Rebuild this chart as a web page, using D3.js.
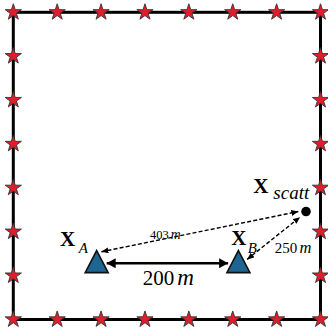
<!DOCTYPE html>
<html>
<head>
<meta charset="utf-8">
<script src="https://cdn.jsdelivr.net/npm/d3@7"></script>
<style>
  html, body { margin: 0; padding: 0; background: #fff; }
  svg { display: block; }
  text { font-family: "Liberation Serif", "Times New Roman", serif; fill: #000; }
</style>
</head>
<body>
<svg id="chart" width="328" height="336"></svg>
<script>
// Field layout in field units (square field, 0..700 on both axes)
const sensorSteps = [0, 100, 200, 300, 400, 500, 600, 700];

// Nodes: two receivers (triangles) and the scatterer (dot)
const nodeNames = ["A", "B", "scatt"];
const nodeX = [190, 513, 667];
const nodeY = [124, 124, 246];
const nodeKind = ["receiver", "receiver", "scatterer"];

// Measured distances between nodes
const linkFrom = ["A", "A", "B"];
const linkTo = ["B", "scatt", "scatt"];
const linkMeters = ["200", "403", "250"];
const linkStyle = ["solid", "dashed", "dashed"];

const fieldMax = 700;

const svg = d3.select("#chart");
const x = d3.scaleLinear().domain([0, fieldMax]).range([13.3, 320.5]);
const y = d3.scaleLinear().domain([0, fieldMax]).range([319.5, 12.3]);

// arrow markers
const defs = svg.append("defs");
function marker(id, w, h, orient) {
  defs.append("marker")
    .attr("id", id)
    .attr("viewBox", `0 ${-h / 2} ${w} ${h}`)
    .attr("refX", w).attr("refY", 0)
    .attr("markerUnits", "userSpaceOnUse")
    .attr("markerWidth", w).attr("markerHeight", h)
    .attr("orient", orient)
    .append("path")
    .attr("d", `M0,${-h / 2}L${w},0L0,${h / 2}Z`)
    .attr("fill", "#000");
}
marker("solidEnd", 9, 10, "auto");
marker("solidStart", 9, 10, "auto-start-reverse");
marker("dashEnd", 7, 6, "auto");
marker("dashStart", 7, 6, "auto-start-reverse");

// field boundary
svg.append("rect")
  .attr("x", x(0)).attr("y", y(fieldMax))
  .attr("width", x(fieldMax) - x(0))
  .attr("height", y(0) - y(fieldMax))
  .attr("fill", "none")
  .attr("stroke", "#000")
  .attr("stroke-width", 3);

// sensors along the four sides (corners shared)
const sensors = [];
sensorSteps.forEach(s => {
  sensors.push([s, 0], [s, fieldMax]);
  if (s !== 0 && s !== fieldMax) sensors.push([0, s], [fieldMax, s]);
});
const star = d3.symbol().type(d3.symbolStar).size(82);
svg.append("g").selectAll("path")
  .data(sensors)
  .join("path")
  .attr("transform", d => `translate(${x(d[0])},${y(d[1])})`)
  .attr("d", star)
  .attr("fill", "#dc1f2b")
  .attr("stroke", "#333")
  .attr("stroke-width", 0.9);

// node lookup
const nodes = {};
nodeNames.forEach((n, i) => {
  nodes[n] = { px: x(nodeX[i]), py: y(nodeY[i]), kind: nodeKind[i] };
});

// where each link leaves / reaches its nodes (pixel offsets from node anchor)
const attach = [
  { a: [10, -1.8], b: [-10.3, -1.8] },
  { a: [4.7, -13.3], b: [-7.7, 0] },
  { a: [8.7, -5.7], b: [-6, 5.6] }
];

const linkG = svg.append("g");
linkFrom.forEach((f, i) => {
  const a = nodes[f], b = nodes[linkTo[i]];
  const dashed = linkStyle[i] === "dashed";
  linkG.append("line")
    .attr("x1", a.px + attach[i].a[0]).attr("y1", a.py + attach[i].a[1])
    .attr("x2", b.px + attach[i].b[0]).attr("y2", b.py + attach[i].b[1])
    .attr("stroke", "#000")
    .attr("stroke-width", dashed ? 1.4 : 2.6)
    .attr("stroke-dasharray", dashed ? "4,2.2" : null)
    .attr("marker-start", dashed ? "url(#dashStart)" : "url(#solidStart)")
    .attr("marker-end", dashed ? "url(#dashEnd)" : "url(#solidEnd)");
});

// receivers (triangles) and scatterer (dot)
const tri = "M0,-14.5L11.5,7.5L-11.5,7.5Z";
nodeNames.forEach(n => {
  const d = nodes[n];
  if (d.kind === "receiver") {
    svg.append("path")
      .attr("transform", `translate(${d.px},${d.py})`)
      .attr("d", tri)
      .attr("fill", "#1d6592")
      .attr("stroke", "#111")
      .attr("stroke-width", 1.6)
      .attr("stroke-linejoin", "miter");
  } else {
    svg.append("circle")
      .attr("cx", d.px).attr("cy", d.py).attr("r", 4.8)
      .attr("fill", "#000");
  }
});

// node labels: bold X with italic subscript
const labelPos = {
  A: { x: -36.7, y: -19.5, sx: -18, sy: -12 },
  B: { x: -7.3, y: -19.7, sx: 9.4, sy: -11.7 },
  scatt: { x: -52.7, y: -18.4, sx: -32.7, sy: -12.4 }
};
nodeNames.forEach(n => {
  const d = nodes[n], p = labelPos[n];
  svg.append("text")
    .attr("x", d.px + p.x).attr("y", d.py + p.y)
    .attr("font-size", 21).attr("font-weight", "bold")
    .text("X");
  svg.append("text")
    .attr("x", d.px + p.sx).attr("y", d.py + p.sy)
    .attr("font-size", n === "scatt" ? 19 : 15)
    .attr("font-style", "italic")
    .text(n);
});

// distance labels
const distPos = [
  { x: 142.7, y: 285, size: 21 },
  { x: 150, y: 239, size: 12.5 },
  { x: 274.7, y: 252.7, size: 15 }
];
linkMeters.forEach((m, i) => {
  const p = distPos[i];
  const t = svg.append("text")
    .attr("x", p.x).attr("y", p.y)
    .attr("font-size", p.size);
  t.append("tspan").text(m);
  t.append("tspan")
    .attr("dx", p.size * 0.15)
    .attr("font-style", "italic")
    .attr("font-size", p.size * 1.1)
    .text("m");
});
</script>
</body>
</html>
